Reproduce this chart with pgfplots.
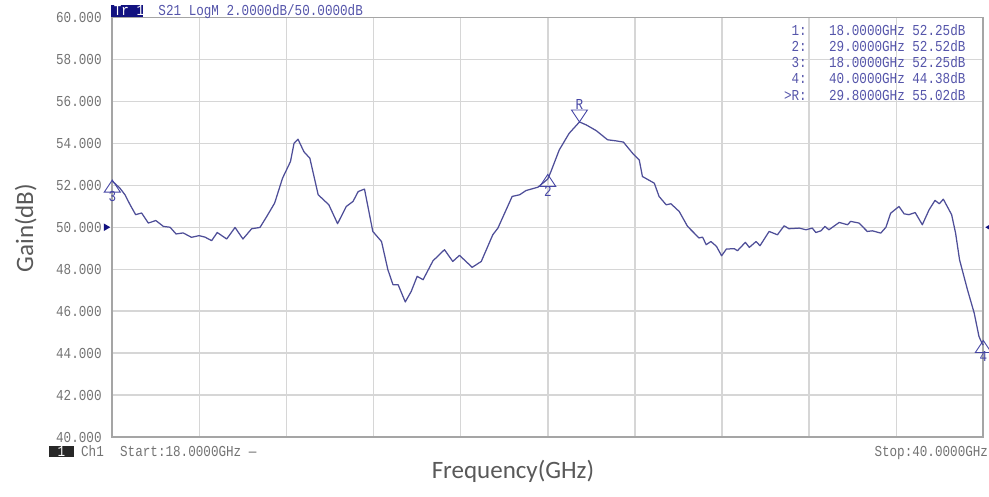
\documentclass[border=0pt]{standalone}
\usepackage{pgfplots}
\pgfplotsset{compat=1.18}
\usepackage{fontspec}
\setmainfont{Liberation Serif}
\newfontfamily\simmono[FakeStretch=0.83]{Liberation Mono}
\newfontfamily\calib{Carlito}
\definecolor{curvecol}{RGB}{78,78,152}
\definecolor{markcol}{RGB}{70,70,165}
\definecolor{tabcol}{RGB}{85,85,170}
\definecolor{tickgrey}{RGB}{115,115,115}
\definecolor{gridgrey}{RGB}{214,214,214}
\definecolor{framegrey}{RGB}{165,165,165}
\definecolor{labelgrey}{RGB}{89,89,89}
\definecolor{navybox}{RGB}{18,18,128}
\definecolor{darkbox}{RGB}{40,40,40}
\pgfdeclareplotmark{mkup}{\pgfpathmoveto{\pgfpointorigin}\pgfpathlineto{\pgfpoint{-8pt}{-12pt}}\pgfpathlineto{\pgfpoint{8pt}{-12pt}}\pgfpathclose\pgfusepathqstroke}
\pgfdeclareplotmark{mkdown}{\pgfpathmoveto{\pgfpointorigin}\pgfpathlineto{\pgfpoint{-8pt}{12pt}}\pgfpathlineto{\pgfpoint{8pt}{12pt}}\pgfpathclose\pgfusepathqstroke}
\pgfdeclareplotmark{refleft}{\pgfpathmoveto{\pgfpoint{-2pt}{0pt}}\pgfpathlineto{\pgfpoint{-8.5pt}{3.8pt}}\pgfpathlineto{\pgfpoint{-8.5pt}{-3.8pt}}\pgfpathclose\pgfusepathqfill}
\pgfdeclareplotmark{refright}{\pgfpathmoveto{\pgfpoint{2pt}{0pt}}\pgfpathlineto{\pgfpoint{8.5pt}{3.8pt}}\pgfpathlineto{\pgfpoint{8.5pt}{-3.8pt}}\pgfpathclose\pgfusepathqfill}
\newcommand{\mfont}{\simmono\fontsize{15.2}{16}\selectfont}
\begin{document}
\begin{tikzpicture}
\path[use as bounding box] (-112.3pt,-59pt) rectangle (876.7pt,437pt);
\begin{axis}[
  scale only axis, width=871pt, height=419.5pt,
  at={(0pt,0pt)}, anchor=south west,
  xmin=18, xmax=40, ymin=40, ymax=60,
  xtick={20.2,22.4,24.6,26.8,29,31.2,33.4,35.6,37.8}, xticklabels={},
  ytick={40,42,44,46,48,50,52,54,56,58,60},
  yticklabels={40.000,42.000,44.000,46.000,48.000,50.000,52.000,54.000,56.000,58.000,60.000},
  yticklabel style={font=\mfont, text=tickgrey, inner sep=0pt, anchor=east, xshift=-10.5pt},
  major tick length=0pt,
  grid=major, grid style={gridgrey, line width=1.4pt},
  axis line style={framegrey, line width=1.8pt},
  clip=false,
  xlabel={Frequency(GHz)}, ylabel={Gain(dB)},
  label style={font=\calib\fontsize{25}{28}\selectfont, text=labelgrey},
  xlabel style={at={(axis description cs:0.46,-0.1001)}, anchor=base},
  ylabel style={at={(axis description cs:-0.091,0.498)}, anchor=base, rotate=0},
]
\addplot[curvecol, line width=1.25pt, line join=round] coordinates {
(18.00,52.20)(18.19,51.87)(18.32,51.55)(18.45,51.07)(18.59,50.60)(18.74,50.68)
(18.91,50.20)(19.10,50.32)(19.29,50.04)(19.46,50.00)(19.61,49.68)(19.79,49.73)
(20.00,49.52)(20.19,49.60)(20.34,49.53)(20.51,49.36)(20.65,49.75)(20.89,49.44)
(21.10,49.99)(21.30,49.44)(21.52,49.93)(21.73,49.99)(21.90,50.51)(22.10,51.15)
(22.30,52.34)(22.50,53.13)(22.59,54.00)(22.69,54.20)(22.84,53.60)(22.99,53.29)
(23.20,51.55)(23.47,51.07)(23.69,50.17)(23.91,50.99)(24.08,51.23)(24.21,51.70)
(24.37,51.82)(24.58,49.80)(24.80,49.32)(24.96,47.98)(25.09,47.26)(25.22,47.26)
(25.40,46.44)(25.55,46.94)(25.70,47.66)(25.85,47.50)(26.10,48.40)(26.39,48.93)
(26.60,48.37)(26.77,48.66)(27.09,48.09)(27.32,48.37)(27.61,49.64)(27.74,49.96)
(28.10,51.47)(28.29,51.55)(28.45,51.75)(28.75,51.91)(29.00,52.30)(29.08,52.66)
(29.29,53.69)(29.54,54.48)(29.80,55.02)(29.97,54.88)(30.22,54.61)(30.51,54.17)
(30.72,54.12)(30.91,54.06)(31.14,53.53)(31.31,53.21)(31.39,52.42)(31.69,52.10)
(31.81,51.47)(31.99,51.07)(32.11,51.12)(32.32,50.75)(32.53,50.04)(32.82,49.49)
(32.91,49.53)(33.00,49.17)(33.12,49.32)(33.26,49.09)(33.39,48.64)(33.51,48.96)
(33.71,48.98)(33.79,48.88)(33.99,49.28)(34.09,49.04)(34.26,49.32)(34.36,49.12)
(34.59,49.80)(34.80,49.64)(34.97,50.07)(35.09,49.93)(35.35,49.96)(35.52,49.88)
(35.68,49.96)(35.77,49.75)(35.90,49.83)(36.00,50.04)(36.10,49.88)(36.36,50.23)
(36.57,50.12)(36.65,50.28)(36.86,50.20)(37.07,49.80)(37.20,49.83)(37.41,49.72)
(37.54,50.00)(37.66,50.67)(37.87,50.99)(38.00,50.64)(38.12,50.60)(38.28,50.70)
(38.46,50.12)(38.63,50.83)(38.78,51.28)(38.89,51.12)(38.99,51.34)(39.20,50.60)
(39.30,49.72)(39.40,48.45)(39.60,47.02)(39.77,45.91)(39.89,44.80)(39.97,44.45)
(40.00,44.38)
};
% markers (triangle apex on trace)
\addplot[markcol, only marks, mark=mkup, line width=0.9pt,
  point meta=explicit symbolic, nodes near coords,
  nodes near coords style={font=\mfont, text=markcol, anchor=north, yshift=-11pt, inner sep=0pt}]
  coordinates {(18,52.25)[3] (29,52.52)[2] (40,44.60)[4]};
\addplot[markcol, only marks, mark=mkdown, line width=0.9pt,
  point meta=explicit symbolic, nodes near coords,
  nodes near coords style={font=\mfont, text=markcol, anchor=south, yshift=12.5pt, inner sep=0pt}]
  coordinates {(29.8,55.02)[R]};
% reference level indicators
\addplot[navybox, only marks, mark=refleft] coordinates {(18,50)};
\addplot[navybox, only marks, mark=refright] coordinates {(40,50)};
% title bar
\fill[navybox] (axis description cs:-0.0015,1.0019) rectangle (axis description cs:0.0356,1.0300);
\node[font=\mfont, text=white, anchor=base west, inner sep=0pt] at (axis description cs:0.0015,1.0045) {Tr 1};
\node[font=\mfont, text=tabcol, anchor=base west, inner sep=0pt] at (axis description cs:0.0528,1.0043) {S21 LogM 2.0000dB/50.0000dB};
% marker table
\node[font=\mfont, text=tabcol, anchor=base east, inner sep=0pt] at (axis description cs:0.7976,0.9559) {1:};
\node[font=\mfont, text=tabcol, anchor=base west, inner sep=0pt] at (axis description cs:0.8228,0.9559) {18.0000GHz 52.25dB};
\node[font=\mfont, text=tabcol, anchor=base east, inner sep=0pt] at (axis description cs:0.7976,0.9178) {2:};
\node[font=\mfont, text=tabcol, anchor=base west, inner sep=0pt] at (axis description cs:0.8228,0.9178) {29.0000GHz 52.52dB};
\node[font=\mfont, text=tabcol, anchor=base east, inner sep=0pt] at (axis description cs:0.7976,0.8803) {3:};
\node[font=\mfont, text=tabcol, anchor=base west, inner sep=0pt] at (axis description cs:0.8228,0.8803) {18.0000GHz 52.25dB};
\node[font=\mfont, text=tabcol, anchor=base east, inner sep=0pt] at (axis description cs:0.7976,0.8415) {4:};
\node[font=\mfont, text=tabcol, anchor=base west, inner sep=0pt] at (axis description cs:0.8228,0.8415) {40.0000GHz 44.38dB};
\node[font=\mfont, text=tabcol, anchor=base east, inner sep=0pt] at (axis description cs:0.7976,0.8033) {>R:};
\node[font=\mfont, text=tabcol, anchor=base west, inner sep=0pt] at (axis description cs:0.8228,0.8033) {29.8000GHz 55.02dB};
% bottom status line
\fill[darkbox] (axis description cs:-0.0727,-0.0205) rectangle (axis description cs:-0.0440,-0.0477);
\node[font=\mfont, text=white, anchor=base, inner sep=0pt] at (axis description cs:-0.0583,-0.0453) {1};
\node[font=\mfont, text=tickgrey, anchor=base west, inner sep=0pt] at (axis description cs:-0.0360,-0.0453) {Ch1};
\node[font=\mfont, text=tickgrey, anchor=base west, inner sep=0pt] at (axis description cs:0.0088,-0.0453) {Start:18.0000GHz —};
\node[font=\mfont, text=tickgrey, anchor=base east, inner sep=0pt] at (axis description cs:1.0057,-0.0453) {Stop:40.0000GHz};
\end{axis}
\end{tikzpicture}
\end{document}
